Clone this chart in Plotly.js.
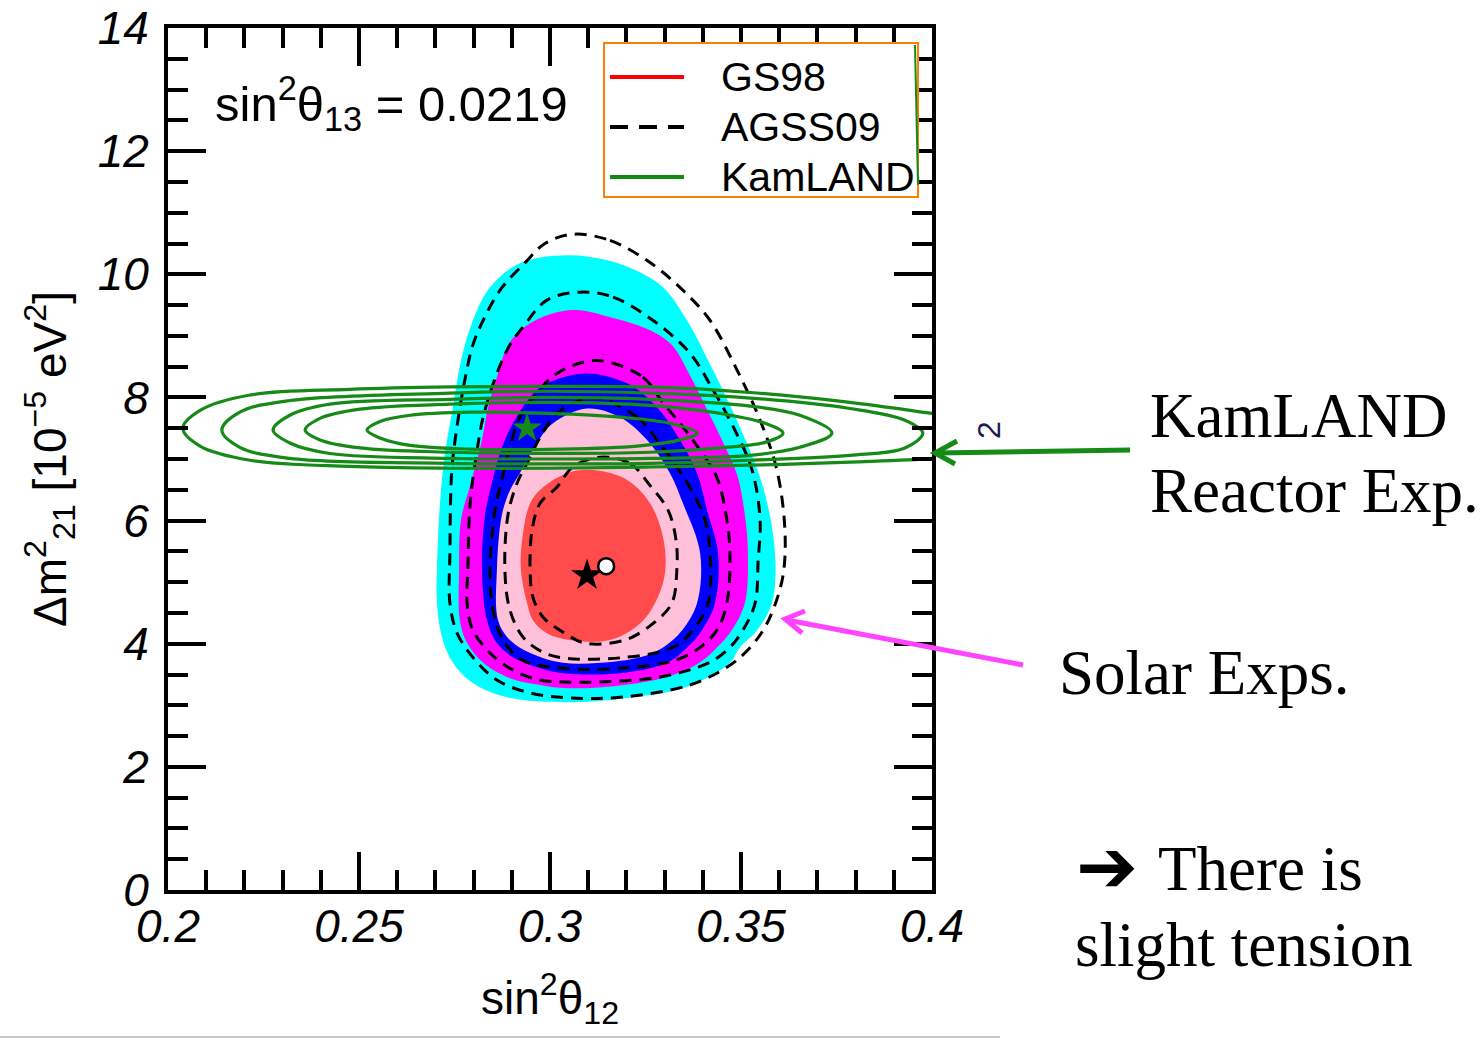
<!DOCTYPE html>
<html>
<head>
<meta charset="utf-8">
<script src="https://cdn.plot.ly/plotly-3.0.1.min.js"></script>
<style>html,body{margin:0;padding:0;background:#fff;}#chart{width:1484px;height:1039px;}</style>
</head>
<body>
<div id="chart"></div>
<script>
// ---- Solar allowed regions (GS98), filled: outer -> inner ----
const cyanX = [0.3045,0.3149,0.3236,0.3296,0.3359,0.3427,0.3497,0.3558,0.3589,0.3581,0.3542,0.3497,0.3471,0.3359,0.3202,0.3045,0.2887,0.2798,0.2746,0.2717,0.2704,0.2704,0.2712,0.2725,0.2746,0.2767,0.2798,0.2843,0.2921,0.3045];
const cyanY = [10.31,10.23,10.03,9.79,9.25,8.44,7.52,6.54,5.47,4.66,4.22,3.94,3.69,3.30,3.12,3.05,3.13,3.36,3.69,4.11,4.66,5.19,6.28,7.09,7.84,8.60,9.25,9.79,10.18,10.31];
const magX = [0.3060,0.3165,0.3262,0.3319,0.3366,0.3406,0.3450,0.3490,0.3510,0.3518,0.3510,0.3476,0.3437,0.3393,0.3306,0.3149,0.3034,0.2974,0.2895,0.2825,0.2783,0.2764,0.2762,0.2767,0.2791,0.2822,0.2838,0.2864,0.2895,0.2961,0.3060];
const magY = [9.42,9.29,9.09,8.85,8.36,7.87,7.31,6.74,6.09,5.47,4.66,4.22,3.94,3.70,3.46,3.30,3.28,3.33,3.44,3.69,4.01,4.38,5.19,6.01,6.57,7.31,7.84,8.39,8.90,9.25,9.42];
const blueX = [0.3097,0.3202,0.3280,0.3340,0.3385,0.3411,0.3440,0.3432,0.3398,0.3359,0.3306,0.3183,0.3034,0.2974,0.2903,0.2861,0.2835,0.2822,0.2830,0.2848,0.2869,0.2903,0.2966,0.3026,0.3097];
const blueY = [8.39,8.23,7.84,7.31,6.77,6.17,5.47,4.66,4.22,3.94,3.69,3.52,3.52,3.60,3.78,4.01,4.38,5.19,6.09,6.61,7.09,7.58,8.12,8.31,8.39];
const pinkX = [0.3097,0.3183,0.3254,0.3314,0.3348,0.3393,0.3385,0.3346,0.3296,0.3236,0.3131,0.3034,0.2948,0.2895,0.2864,0.2861,0.2874,0.2895,0.2921,0.2966,0.3008,0.3097];
const pinkY = [7.82,7.68,7.31,6.77,6.28,5.47,4.66,4.22,3.94,3.78,3.69,3.69,3.85,4.06,4.38,5.19,6.09,6.49,6.77,7.26,7.58,7.82];
const redX = [0.3113,0.3202,0.3262,0.3296,0.3301,0.3275,0.3236,0.3157,0.3052,0.2992,0.2955,0.2940,0.2924,0.2927,0.2948,0.2982,0.3045,0.3113];
const redY = [6.82,6.66,6.28,5.73,5.15,4.66,4.33,4.06,4.06,4.17,4.38,4.66,5.19,5.68,6.28,6.54,6.77,6.82];

// ---- AGSS09 dashed contours: inner -> outer ----
const d1X = [0.3131,0.3209,0.3262,0.3309,0.3330,0.3332,0.3319,0.3270,0.3196,0.3092,0.3026,0.2982,0.2955,0.2948,0.2953,0.2974,0.3018,0.3060,0.3131];
const d1Y = [7.03,6.93,6.57,6.17,5.68,5.19,4.66,4.33,4.06,4.01,4.22,4.43,4.76,5.19,5.84,6.28,6.54,6.87,7.03];
const d2X = [0.3123,0.3228,0.3280,0.3332,0.3366,0.3406,0.3419,0.3414,0.3374,0.3322,0.3183,0.3034,0.2982,0.2929,0.2895,0.2882,0.2890,0.2914,0.2940,0.2974,0.3013,0.3065,0.3123];
const d2Y = [7.99,7.68,7.31,6.87,6.54,6.01,5.47,4.66,4.22,3.94,3.77,3.77,3.86,4.11,4.55,5.19,6.09,6.61,6.93,7.35,7.71,7.92,7.99];
const d3X = [0.3123,0.3243,0.3296,0.3348,0.3393,0.3437,0.3463,0.3471,0.3463,0.3437,0.3393,0.3327,0.3183,0.3034,0.2929,0.2877,0.2851,0.2843,0.2856,0.2874,0.2895,0.2921,0.2966,0.3018,0.3123];
const d3Y = [8.60,8.33,7.91,7.52,7.14,6.70,6.01,5.47,4.66,4.22,3.94,3.73,3.60,3.60,3.73,4.06,4.55,5.19,6.17,6.66,7.19,7.68,8.07,8.39,8.60];
const d4X = [0.3079,0.3165,0.3270,0.3366,0.3427,0.3484,0.3529,0.3550,0.3545,0.3537,0.3505,0.3471,0.3419,0.3288,0.3131,0.3034,0.2974,0.2903,0.2843,0.2798,0.2783,0.2785,0.2791,0.2809,0.2825,0.2861,0.2895,0.2929,0.2992,0.3079];
const d4Y = [9.71,9.63,9.25,8.72,8.12,7.47,6.82,6.01,5.36,4.66,4.22,3.94,3.70,3.46,3.38,3.38,3.41,3.57,3.85,4.22,4.66,5.19,6.28,7.14,7.68,8.39,8.85,9.14,9.58,9.71];
const d5X = [0.3060,0.3157,0.3262,0.3348,0.3419,0.3490,0.3550,0.3594,0.3615,0.3610,0.3584,0.3558,0.3524,0.3471,0.3366,0.3183,0.3052,0.2948,0.2861,0.2798,0.2757,0.2738,0.2738,0.2743,0.2759,0.2777,0.2798,0.2825,0.2869,0.2935,0.2987,0.3060];
const d5Y = [10.65,10.55,10.19,9.74,9.25,8.44,7.63,6.82,5.84,5.11,4.55,4.22,3.94,3.65,3.33,3.13,3.12,3.20,3.41,3.78,4.17,4.66,5.47,6.82,7.63,8.28,8.85,9.25,9.74,10.19,10.50,10.65];

// ---- KamLAND contours: inner -> outer ----
const k1X = [0.2521,0.2555,0.2634,0.2791,0.3000,0.3183,0.3314,0.3385,0.3340,0.3228,0.3026,0.2791,0.2634,0.2555,0.2521];
const k1Y = [7.47,7.61,7.71,7.76,7.74,7.68,7.58,7.42,7.31,7.21,7.16,7.16,7.22,7.34,7.47];
const k2X = [0.2359,0.2398,0.2503,0.2738,0.3000,0.3262,0.3445,0.3563,0.3610,0.3563,0.3445,0.3262,0.3000,0.2738,0.2503,0.2398,0.2359];
const k2Y = [7.47,7.66,7.81,7.89,7.92,7.87,7.74,7.58,7.42,7.27,7.18,7.11,7.09,7.11,7.18,7.31,7.47];
const k3X = [0.2275,0.2319,0.2424,0.2738,0.3000,0.3262,0.3524,0.3654,0.3738,0.3654,0.3524,0.3262,0.3000,0.2738,0.2424,0.2319,0.2275];
const k3Y = [7.47,7.71,7.89,7.97,8.00,7.97,7.86,7.71,7.42,7.19,7.06,7.01,7.00,7.01,7.09,7.26,7.47];
const k4X = [0.2141,0.2188,0.2319,0.2738,0.3000,0.3262,0.3524,0.3785,0.3929,0.3976,0.3929,0.3785,0.3524,0.3262,0.3000,0.2738,0.2319,0.2188,0.2141];
const k4Y = [7.47,7.76,7.95,8.07,8.10,8.07,7.99,7.82,7.63,7.42,7.18,7.06,6.98,6.93,6.92,6.93,7.01,7.19,7.47];
const k5X = [0.2039,0.2084,0.2215,0.2476,0.2738,0.3000,0.3262,0.3524,0.3785,0.4000,0.4126,0.4178,0.4126,0.4000,0.3785,0.3524,0.3262,0.3000,0.2738,0.2476,0.2215,0.2084,0.2039];
const k5Y = [7.50,7.79,8.04,8.13,8.17,8.18,8.17,8.08,7.92,7.74,7.63,7.37,7.11,7.01,6.95,6.90,6.87,6.85,6.85,6.88,6.98,7.21,7.50];

// ---- best-fit points ----
const bestGS98 = {x:[0.3097], y:[5.11]};
const bestAGSS = {x:[0.3147], y:[5.26]};
const bestKL = {x:[0.2940], y:[7.50]};

const legendLabels = ['GS98','AGSS09','KamLAND'];
const legendColors = ['#ff0000','#000000','#128a12'];

const GREEN = '#168a16';
function region(name, x, y, color){
  return {type:'scatter', mode:'lines', name, x, y, fill:'toself', fillcolor:color,
    line:{width:0, shape:'spline', smoothing:1, color:color}, hoverinfo:'skip', showlegend:false};
}
function contour(name, x, y, color, dash, width){
  return {type:'scatter', mode:'lines', name, x, y,
    line:{width:width, shape:'spline', smoothing:1, color:color, dash:dash}, hoverinfo:'skip', showlegend:false};
}

const traces = [
  region('GS98 3σ', cyanX, cyanY, '#00ffff'),
  region('GS98 2σ', magX, magY, '#ff00ff'),
  region('GS98 99%', blueX, blueY, '#0000ff'),
  region('GS98 90%', pinkX, pinkY, '#ffc0da'),
  region('GS98 1σ', redX, redY, '#ff4b4b'),
  contour('AGSS09', d1X, d1Y, '#000', '12px,8px', 3),
  contour('AGSS09', d2X, d2Y, '#000', '12px,8px', 3),
  contour('AGSS09', d3X, d3Y, '#000', '12px,8px', 3),
  contour('AGSS09', d4X, d4Y, '#000', '12px,8px', 3),
  contour('AGSS09', d5X, d5Y, '#000', '12px,8px', 3),
  contour('KamLAND', k1X, k1Y, GREEN, 'solid', 3.2),
  contour('KamLAND', k2X, k2Y, GREEN, 'solid', 3.2),
  contour('KamLAND', k3X, k3Y, GREEN, 'solid', 3.2),
  contour('KamLAND', k4X, k4Y, GREEN, 'solid', 3.2),
  contour('KamLAND', k5X, k5Y, GREEN, 'solid', 3.2),
  {type:'scatter', mode:'markers', x:bestKL.x, y:bestKL.y, marker:{symbol:'star', size:22, color:GREEN}, hoverinfo:'skip', showlegend:false},
  {type:'scatter', mode:'markers', x:bestGS98.x, y:bestGS98.y, marker:{symbol:'star', size:24, color:'#000'}, hoverinfo:'skip', showlegend:false},
  {type:'scatter', mode:'markers', x:bestAGSS.x, y:bestAGSS.y, marker:{symbol:'circle', size:16, color:'#fff', line:{color:'#000', width:2.5}}, hoverinfo:'skip', showlegend:false}
];

// plot area in px: x 168..932, y 28..890
const L=168, R=932, T=28, B=890;
const px = v => (v - L)/(R - L);
const py = v => (B - v)/(B - T);

const FONT = 'Liberation Sans, Arial, Helvetica, sans-serif';
const SERIF = 'Liberation Serif, Times New Roman, serif';

const shapes = [];
const annotations = [];

// legend box
shapes.push({type:'rect', xref:'paper', yref:'paper', x0:px(604), x1:px(918), y0:py(197), y1:py(43),
  line:{color:'#ff8000', width:2}, fillcolor:'#ffffff', layer:'above'});
// sliver of green line at legend right edge
shapes.push({type:'line', xref:'paper', yref:'paper', x0:px(915), x1:px(918), y0:py(45), y1:py(185),
  line:{color:GREEN, width:2}});
const rowsY = [77,127,177];
legendLabels.forEach((lab,i)=>{
  shapes.push({type:'line', xref:'paper', yref:'paper', x0:px(610), x1:px(684), y0:py(rowsY[i]), y1:py(rowsY[i]),
    line:{color:legendColors[i], width:4, dash: i===1 ? '18px,11px' : 'solid'}});
  annotations.push({xref:'paper', yref:'paper', x:px(719), y:py(rowsY[i]), xanchor:'left', yanchor:'middle',
    text:lab, showarrow:false, font:{family:FONT, size:41, color:'#000'}});
});

// sin^2 theta13 label
annotations.push({xref:'paper', yref:'paper', x:px(213), y:py(104), xanchor:'left', yanchor:'middle',
  text:'sin<sup>2</sup>θ<sub>13</sub> = 0.0219', showarrow:false, font:{family:FONT, size:49, color:'#000'}});

// Right-hand slide text
const sideTexts = [
  {t:'KamLAND', x:1148, y:416},
  {t:'Reactor Exp.', x:1148, y:491},
  {t:'Solar Exps.', x:1057, y:673},
  {t:'There is', x:1156, y:869},
  {t:'slight tension', x:1073, y:945}
];
sideTexts.forEach(s=>annotations.push({xref:'paper', yref:'paper', x:px(s.x), y:py(s.y), xanchor:'left', yanchor:'middle',
  text:s.t, showarrow:false, font:{family:SERIF, size:63, color:'#000'}}));
// heavy arrow bullet
annotations.push({xref:'paper', yref:'paper', x:px(1074), y:py(866), xanchor:'left', yanchor:'middle',
  text:'➔', showarrow:false, font:{family:'DejaVu Sans, sans-serif', size:74, weight:'bold', color:'#000'}});

// cropped fragment "2"
annotations.push({xref:'paper', yref:'paper', x:px(989), y:py(430), xanchor:'center', yanchor:'middle',
  text:'2', textangle:-90, showarrow:false, font:{family:FONT, size:32, color:'#1b1b55'}});

// arrows
shapes.push({type:'line', xref:'paper', yref:'paper', x0:px(1130), y0:py(450), x1:px(937), y1:py(453),
  line:{color:GREEN, width:5}});
shapes.push({type:'path', xref:'paper', yref:'paper',
  path:`M ${px(957)} ${py(441)} L ${px(935)} ${py(453)} L ${px(955)} ${py(464)}`, line:{color:GREEN, width:5}});
shapes.push({type:'line', xref:'paper', yref:'paper', x0:px(1023), y0:py(665), x1:px(787), y1:py(620),
  line:{color:'#ff44ff', width:5}});
shapes.push({type:'path', xref:'paper', yref:'paper',
  path:`M ${px(805)} ${py(611)} L ${px(785)} ${py(619)} L ${px(802)} ${py(633)}`, line:{color:'#ff44ff', width:5}});
// slide bottom rule
shapes.push({type:'line', xref:'paper', yref:'paper', x0:px(0), x1:px(1000), y0:py(1037), y1:py(1037),
  line:{color:'#c8c8c8', width:2}});

const layout = {
  width:1484, height:1039,
  margin:{l:L, r:1484-R, t:T, b:1039-B, pad:0},
  paper_bgcolor:'#fff', plot_bgcolor:'#fff',
  showlegend:false, hovermode:false,
  xaxis:{range:[0.2,0.4], tick0:0.2, dtick:0.05, ticks:'inside', ticklen:38, tickwidth:4, tickcolor:'#000',
    showline:true, linewidth:4, linecolor:'#000', mirror:'ticks', showgrid:false, zeroline:false,
    minor:{dtick:0.01, ticks:'inside', ticklen:20, tickwidth:4, tickcolor:'#000', showgrid:false},
    tickfont:{family:FONT, size:46, style:'italic', color:'#000'}, ticklabelstandoff:-7,
    title:{text:'sin<sup>2</sup>θ<sub>12</sub>', font:{family:FONT, size:46, color:'#000'}, standoff:32},
    fixedrange:true},
  yaxis:{range:[0,14], tick0:0, dtick:2, ticks:'inside', ticklen:38, tickwidth:4, tickcolor:'#000',
    showline:true, linewidth:4, linecolor:'#000', mirror:'ticks', showgrid:false, zeroline:false,
    minor:{dtick:0.5, ticks:'inside', ticklen:20, tickwidth:4, tickcolor:'#000', showgrid:false},
    tickfont:{family:FONT, size:46, style:'italic', color:'#000'}, ticklabelstandoff:6,
    title:{text:'Δm<sup>2</sup><sub>21</sub> [10<sup>−5</sup> eV<sup>2</sup>]', font:{family:FONT, size:46, color:'#000'}, standoff:18},
    fixedrange:true},
  shapes, annotations
};

Plotly.newPlot('chart', traces, layout, {displayModeBar:false, staticPlot:true});
</script>
</body>
</html>
